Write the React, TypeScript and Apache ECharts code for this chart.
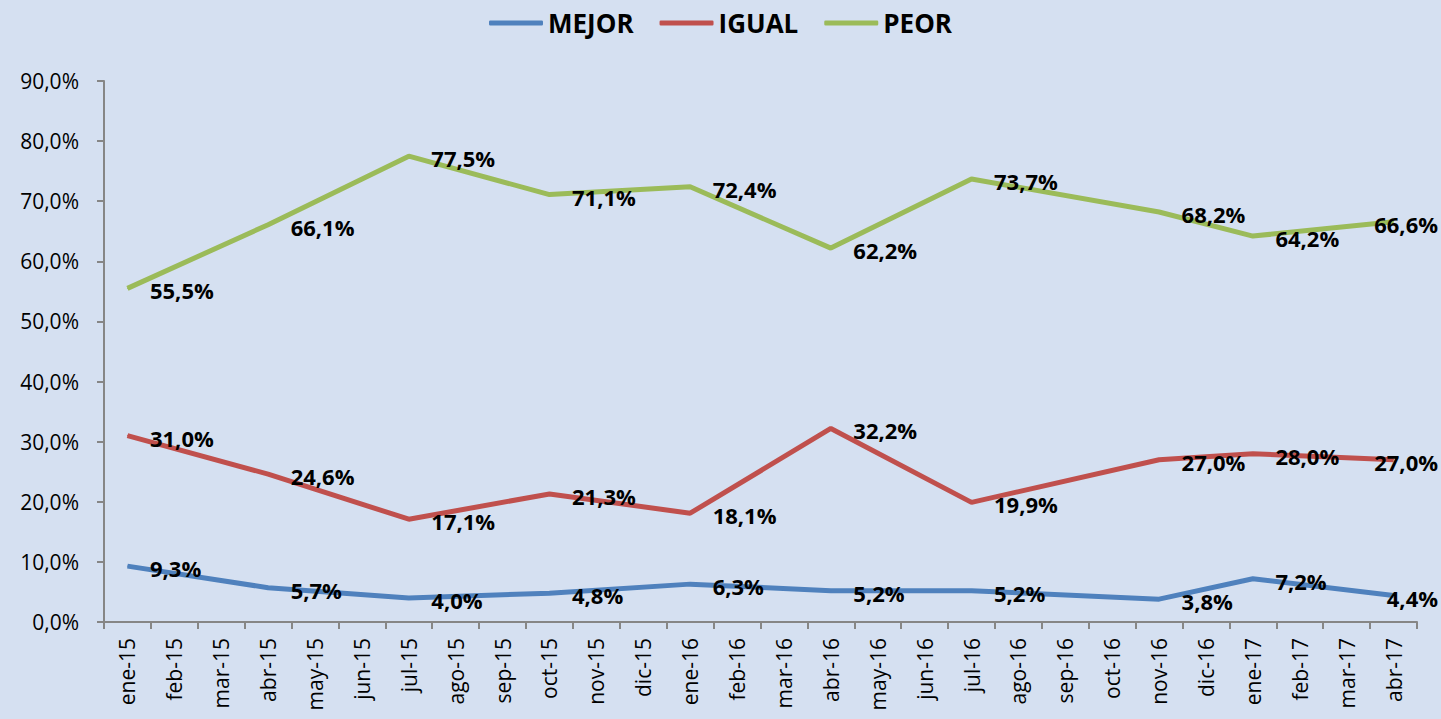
import React, { useEffect, useRef } from "react";
import * as echarts from "echarts";

const categories = [
  "ene-15", "feb-15", "mar-15", "abr-15", "may-15", "jun-15", "jul-15", "ago-15", "sep-15", "oct-15", "nov-15", "dic-15",
  "ene-16", "feb-16", "mar-16", "abr-16", "may-16", "jun-16", "jul-16", "ago-16", "sep-16", "oct-16", "nov-16", "dic-16",
  "ene-17", "feb-17", "mar-17", "abr-17",
];

// Values only at survey months; other months are null (line connects them)
const mejor = [9.3, null, null, 5.7, null, null, 4.0, null, null, 4.8, null, null, 6.3, null, null, 5.2, null, null, 5.2, null, null, null, 3.8, null, 7.2, null, null, 4.4];
const igual = [31.0, null, null, 24.6, null, null, 17.1, null, null, 21.3, null, null, 18.1, null, null, 32.2, null, null, 19.9, null, null, null, 27.0, null, 28.0, null, null, 27.0];
const peor = [55.5, null, null, 66.1, null, null, 77.5, null, null, 71.1, null, null, 72.4, null, null, 62.2, null, null, 73.7, null, null, null, 68.2, null, 64.2, null, null, 66.6];

const seriesNames = ["MEJOR", "IGUAL", "PEOR"];
const seriesColors = ["#4f81bd", "#c0504d", "#9bbb59"];

const FONT = "'Open Sans', 'Noto Sans', sans-serif";
const fmt = (v: number) => v.toFixed(1).replace(".", ",") + "%";

export default function App() {
  const ref = useRef<HTMLDivElement>(null);
  useEffect(() => {
    document.body.style.margin = "0";
    if (!ref.current) return;
    const chart = echarts.init(ref.current, null, { renderer: "svg" });
    const dataSets = [mejor, igual, peor];
    chart.setOption({
      animation: false,
      backgroundColor: "#d5e0f1",
      textStyle: { fontFamily: FONT },
      legend: {
        top: 5,
        left: "center",
        itemWidth: 54,
        itemHeight: 5,
        itemGap: 26,
        icon: "roundRect",
        textStyle: { fontSize: 26, fontWeight: "bold", color: "#000", fontFamily: FONT },
        data: seriesNames,
      },
      grid: { left: 104, right: 24, top: 81, bottom: 97, containLabel: false },
      xAxis: {
        type: "category",
        data: categories,
        boundaryGap: true,
        axisLine: { lineStyle: { color: "#868686", width: 2 } },
        axisTick: { show: true, length: 7, alignWithLabel: false, lineStyle: { color: "#868686", width: 2 } },
        axisLabel: { rotate: 90, interval: 0, margin: 16, fontSize: 21, color: "#000", fontFamily: FONT },
        splitLine: { show: false },
      },
      yAxis: {
        type: "value",
        min: 0,
        max: 90,
        interval: 10,
        axisLine: { show: true, lineStyle: { color: "#868686", width: 2 } },
        axisTick: { show: true, length: 7, lineStyle: { color: "#868686", width: 2 } },
        axisLabel: { margin: 25, fontSize: 21, color: "#000", fontFamily: FONT, formatter: (v: number) => fmt(v) },
        splitLine: { show: false },
      },
      series: seriesNames.map((name, i) => {
        const arr = dataSets[i];
        const last = arr.length - 1;
        return {
          name,
          type: "line",
          data: arr.map((v, j) =>
            j === last && v != null
              ? { value: v, label: { align: "right", distance: 44 } }
              : v
          ),
          connectNulls: true,
          symbol: "circle",
          symbolSize: 1,
          showSymbol: true,
          itemStyle: { color: seriesColors[i] },
          lineStyle: { color: seriesColors[i], width: 5 },
          label: {
            show: true,
            position: "right",
            distance: 22,
            offset: [0, 2],
            fontSize: 22,
            fontWeight: "bold",
            color: "#000",
            fontFamily: FONT,
            formatter: (p: any) => fmt(p.value),
          },
        };
      }),
    });
    return () => chart.dispose();
  }, []);
  return <div ref={ref} style={{ width: 1441, height: 719 }} />;
}
